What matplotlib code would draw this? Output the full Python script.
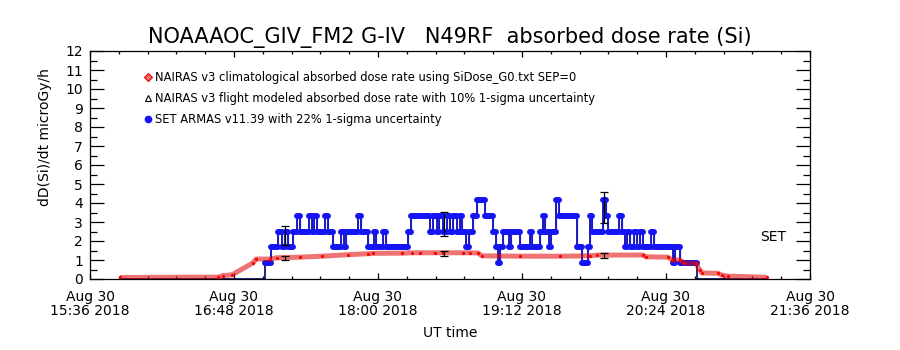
import matplotlib
matplotlib.use("Agg")
import matplotlib.pyplot as plt
import matplotlib.dates as mdates
from matplotlib.ticker import MultipleLocator, FixedLocator
from matplotlib.lines import Line2D
from datetime import datetime

DAY = "2018-08-30"

# NAIRAS v3 climatological absorbed dose rate (UT, microGy/h)
clim_time = ["15:51:00", "16:40:00", "16:42:30", "16:47:00", "16:57:30", "16:59:00",
             "17:06:00", "17:09:30", "17:21:00", "17:32:00", "17:45:00", "17:55:00",
             "17:57:30", "18:12:00", "18:17:00", "18:21:00", "18:28:30", "18:32:30",
             "18:42:30", "18:46:00", "18:50:00", "18:52:00", "19:11:00", "19:31:00",
             "19:46:00", "19:49:30", "20:12:30", "20:14:00", "20:25:00", "20:27:00",
             "20:31:00", "20:33:00", "20:39:00", "20:41:00", "20:42:00", "20:50:00",
             "20:52:00", "20:55:00", "21:14:30"]
clim_dose = [0.08, 0.10, 0.18, 0.22, 0.85, 1.05,
             1.05, 1.12, 1.15, 1.20, 1.28, 1.33,
             1.35, 1.36, 1.38, 1.38, 1.38, 1.38,
             1.38, 1.38, 1.37, 1.22, 1.20, 1.20,
             1.22, 1.26, 1.26, 1.17, 1.15, 1.00,
             1.00, 0.85, 0.82, 0.45, 0.32, 0.30,
             0.20, 0.15, 0.09]

# NAIRAS v3 flight modeled points with 10% 1-sigma
flt_time = ["17:13:30", "18:33:00", "19:53:00"]
flt_dose = [1.10, 1.33, 1.26]
flt_err = [0.11, 0.13, 0.13]

# SET ARMAS v11.39 (step series: value holds from each time to the next)
set_time = ["15:51:00", "17:03:30", "17:06:30", "17:10:00", "17:12:00", "17:13:30",
            "17:15:00", "17:17:30", "17:19:30", "17:21:00", "17:25:30", "17:27:00",
            "17:28:00", "17:29:30", "17:33:30", "17:35:00", "17:37:30", "17:41:30",
            "17:43:00", "17:44:00", "17:50:00", "17:51:30", "17:55:00", "17:58:00",
            "17:59:00", "18:02:30", "18:04:00", "18:15:00", "18:16:30", "18:26:00",
            "18:27:30", "18:29:30", "18:30:30", "18:32:30", "18:34:30", "18:36:00",
            "18:37:30", "18:39:30", "18:41:00", "18:42:00", "18:44:00", "18:45:30",
            "18:47:30", "18:49:30", "18:53:30", "18:57:30", "18:59:00", "19:00:00",
            "19:01:00", "19:02:30", "19:05:30", "19:06:30", "19:11:00", "19:16:00",
            "19:17:00", "19:21:00", "19:22:30", "19:23:30", "19:25:30", "19:26:30",
            "19:29:00", "19:30:30", "19:39:30", "19:42:00", "19:45:00", "19:46:00",
            "19:47:00", "19:52:30", "19:54:00", "19:55:00", "20:00:30", "20:02:00",
            "20:03:30", "20:04:30", "20:06:00", "20:08:00", "20:09:30", "20:11:00",
            "20:12:30", "20:16:30", "20:18:00", "20:27:30", "20:28:30", "20:31:00",
            "20:39:30"]
set_dose = [0.00, 0.83, 1.66, 2.49, 1.66, 2.49,
            1.66, 2.49, 3.32, 2.49, 3.32, 2.49,
            3.32, 2.49, 3.32, 2.49, 1.66, 2.49,
            1.66, 2.49, 3.32, 2.49, 1.66, 2.49,
            1.66, 2.49, 1.66, 2.49, 3.32, 2.49,
            3.32, 2.49, 3.32, 2.49, 3.32, 2.49,
            3.32, 2.49, 3.32, 2.49, 1.66, 2.49,
            3.32, 4.15, 3.32, 2.49, 1.66, 0.83,
            1.66, 2.49, 1.66, 2.49, 1.66, 2.49,
            1.66, 2.49, 3.32, 2.49, 1.66, 2.49,
            4.15, 3.32, 1.66, 0.83, 1.66, 3.32,
            2.49, 4.15, 3.32, 2.49, 3.32, 2.49,
            1.66, 2.49, 1.66, 2.49, 1.66, 2.49,
            1.66, 2.49, 1.66, 0.83, 1.66, 0.83,
            0.00]
set_end = "21:14:30"

# SET error bars (22% 1-sigma)
seterr_time = ["17:13:30", "18:33:00", "19:53:00"]
seterr_dose = [2.27, 2.90, 3.76]
seterr_err = [0.50, 0.64, 0.83]

xtick_times = ["15:36", "16:48", "18:00", "19:12", "20:24", "21:36"]
ytick_vals = list(range(0, 13))

TITLE = "NOAAAOC_GIV_FM2 G-IV   N49RF  absorbed dose rate (Si)"
LEG = ["NAIRAS v3 climatological absorbed dose rate using SiDose_G0.txt SEP=0",
       "NAIRAS v3 flight modeled absorbed dose rate with 10% 1-sigma uncertainty",
       "SET ARMAS v11.39 with 22% 1-sigma uncertainty"]


def t2n(t):
    fmt = "%Y-%m-%d %H:%M:%S" if t.count(":") == 2 else "%Y-%m-%d %H:%M"
    return mdates.date2num(datetime.strptime(DAY + " " + t, fmt))


W, H = 900, 350
fig = plt.figure(figsize=(9, 3.5), dpi=100)
ax = fig.add_axes([90 / W, 1 - 279 / H, 720 / W, 228 / H])

BLUE = "#1414f4"

# SET series: thin connecting steps + thick runs of markers
st = [t2n(t) for t in set_time]
se = st[1:] + [t2n(set_end)]
ax.plot(st + [se[-1]], set_dose + [set_dose[-1]], drawstyle="steps-post",
        color="#000070", lw=1.2, zorder=2)
nz = [i for i, v in enumerate(set_dose) if v > 0]
hl = ax.hlines([set_dose[i] for i in nz], [st[i] for i in nz], [se[i] for i in nz],
               colors=BLUE, lw=4.3, zorder=2)
hl.set_capstyle("round")
ax.plot(st[1:-1] + [se[-2]], set_dose[1:-1] + [set_dose[-2]], drawstyle="steps-post",
        color=BLUE, lw=0.8, zorder=2)

# NAIRAS climatological
ct = [t2n(t) for t in clim_time]
ax.plot(ct, clim_dose, color="#e00000", alpha=0.55, lw=3.6,
        solid_capstyle="butt", zorder=3)
ax.plot(ct, clim_dose, "o", color="#ff0000", ms=2.3, mew=0, zorder=4)

# error bars
ax.errorbar([t2n(t) for t in flt_time], flt_dose, yerr=flt_err, fmt="none",
            ecolor="black", elinewidth=0.9, capsize=3, capthick=0.9, zorder=5)
ax.errorbar([t2n(t) for t in seterr_time], seterr_dose, yerr=seterr_err,
            fmt="none", ecolor="black", elinewidth=0.9, capsize=3.2,
            capthick=0.9, zorder=5)

ax.set_xlim(t2n(xtick_times[0]), t2n(xtick_times[-1]))
ax.set_ylim(0, 12)

ax.xaxis.set_major_locator(FixedLocator([t2n(t) for t in xtick_times]))
ax.set_xticklabels(["Aug 30\n" + t + " 2018" for t in xtick_times],
                   fontsize=10, linespacing=1.0)
ax.xaxis.set_minor_locator(MultipleLocator(0.01))
ax.yaxis.set_major_locator(FixedLocator(ytick_vals))
ax.set_yticklabels([str(v) for v in ytick_vals], fontsize=10)
ax.yaxis.set_minor_locator(MultipleLocator(0.5))

ax.tick_params(axis="both", which="both", direction="in", top=True,
               right=True, width=0.9, color="black")
ax.tick_params(axis="x", which="major", length=4.5, pad=8)
ax.tick_params(axis="x", which="minor", length=2.2)
ax.tick_params(axis="y", which="major", length=10.4, pad=5)
ax.tick_params(axis="y", which="minor", length=5.2)
for s in ax.spines.values():
    s.set_linewidth(0.9)

fig.text(0.5, 1 - 38 / H, TITLE, ha="center", va="center", fontsize=15)
fig.text(0.5, 1 - 333 / H, "UT time", ha="center", va="center", fontsize=10)
fig.text(45 / W, 1 - 137 / H, "dD(Si)/dt microGy/h", rotation=90,
         ha="center", va="center", fontsize=10)
fig.text(773 / W, 1 - 237 / H, "SET", ha="center", va="center", fontsize=10)

handles = [
    Line2D([], [], ls="none", marker="D", ms=4, mfc="#ec7070", mec="#e00000", mew=0.8),
    Line2D([], [], ls="none", marker="^", ms=4.5, mfc="white", mec="black", mew=0.8),
    Line2D([], [], ls="none", marker="o", ms=4.5, mfc=BLUE, mec=BLUE),
]
ax.legend(handles, LEG, loc="upper left", bbox_to_anchor=(145 / W, 1 - 71.5 / H),
          bbox_transform=fig.transFigure, frameon=False, fontsize=8.3,
          handlelength=0.5, handletextpad=0.35, borderaxespad=0, borderpad=0,
          labelspacing=0.66)

fig.savefig("out.png", dpi=100)
